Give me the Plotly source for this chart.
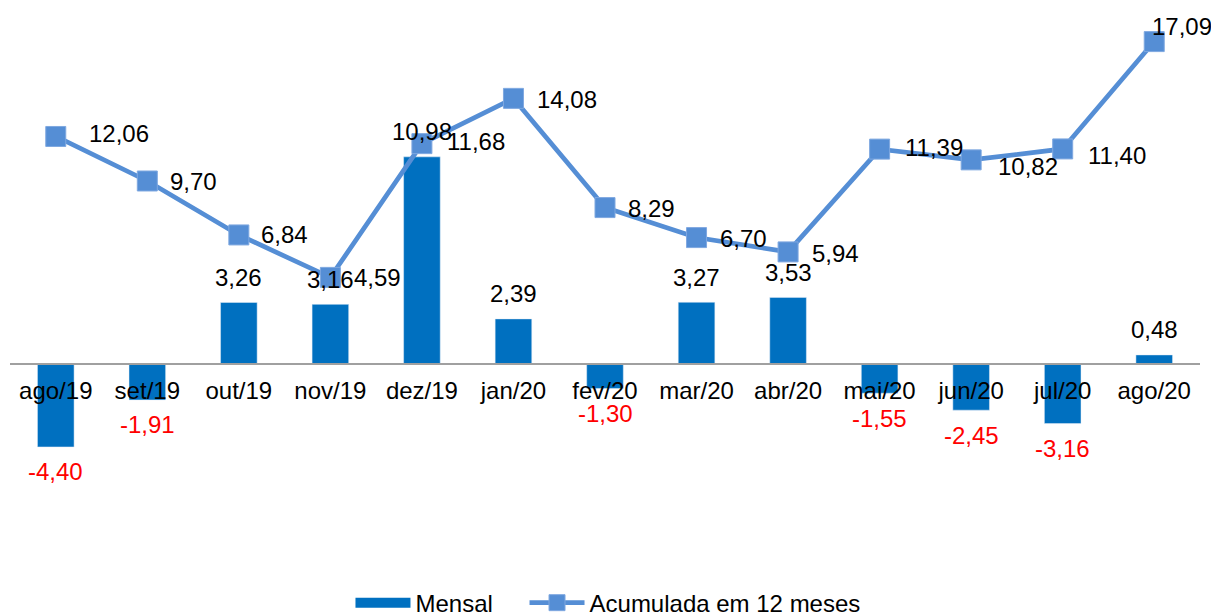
import plotly.graph_objects as go

categories = ["ago/19", "set/19", "out/19", "nov/19", "dez/19", "jan/20", "fev/20",
              "mar/20", "abr/20", "mai/20", "jun/20", "jul/20", "ago/20"]
mensal = [-4.40, -1.91, 3.26, 3.16, 10.98, 2.39, -1.30, 3.27, 3.53, -1.55, -2.45, -3.16, 0.48]
acumulada = [12.06, 9.70, 6.84, 4.59, 11.68, 14.08, 8.29, 6.70, 5.94, 11.39, 10.82, 11.40, 17.09]

# label offsets (pixels) for the accumulated-series labels
acc_label_dx = [31, 21, 20, 22, 23, 22, 21, 21, 22, 23, 25, 23, -4]
acc_label_dy = [-3, 1, 0, 0, -2, 1, 1, 1, 2, -2, 7, 7, -15]

BAR_COLOR = "#0070C0"
LINE_COLOR = "#558ED5"
FONT = "Arial, Liberation Sans, sans-serif"
FS = 24
NBSP = "\u00a0"

def fmt(v):
    return f"{v:.2f}".replace(".", ",")

fig = go.Figure()
fig.add_trace(go.Bar(x=categories, y=mensal, name="Mensal", marker_color=BAR_COLOR,
                     showlegend=False))
fig.add_trace(go.Scatter(x=[None], y=[None], mode="lines", name="Mensal" + NBSP * 4,
                         line=dict(color=BAR_COLOR, width=12), showlegend=True))
fig.add_trace(go.Scatter(x=categories, y=acumulada, name="Acumulada em 12 meses",
                         mode="lines+markers",
                         line=dict(color=LINE_COLOR, width=4.7),
                         marker=dict(symbol="square", size=20, color=LINE_COLOR,
                                     line=dict(color="#7FA8E0", width=1))))

ann = []
for c, v in zip(categories, mensal):
    ann.append(dict(x=c, y=v, xref="x", yref="y", text=fmt(v), showarrow=False,
                    xanchor="center", yanchor="middle", yshift=25 if v >= 0 else -25,
                    font=dict(family=FONT, size=FS, color="#000000" if v >= 0 else "#FF0000")))
for c, v, dx, dy in zip(categories, acumulada, acc_label_dx, acc_label_dy):
    ann.append(dict(x=c, y=v, xref="x", yref="y", text=fmt(v), showarrow=False,
                    xanchor="left", yanchor="middle", xshift=dx, yshift=-dy,
                    font=dict(family=FONT, size=FS, color="#000000")))

y_min, y_max = -7.0, 18.5
zero_pos = (0 - y_min) / (y_max - y_min)

fig.update_layout(
    width=1211, height=615,
    margin=dict(l=10, r=11, t=15, b=119, autoexpand=False),
    paper_bgcolor="white", plot_bgcolor="white",
    font=dict(family=FONT, size=FS, color="#000000"),
    bargap=0.6,
    annotations=ann,
    xaxis=dict(type="category", range=[-0.5, 12.5], anchor="free", position=zero_pos,
               showline=True, linecolor="#A0A0A0", linewidth=2, showgrid=False,
               ticks="", ticklabelstandoff=5, automargin=False,
               tickfont=dict(family=FONT, size=FS, color="#000000"),
               zeroline=False, layer="above traces"),
    yaxis=dict(range=[y_min, y_max], visible=False, showgrid=False, zeroline=False,
               automargin=False),
    legend=dict(orientation="h", x=0.5025, xanchor="center", y=-0.2226, yanchor="middle",
                font=dict(family=FONT, size=FS, color="#000000"), itemwidth=55,
                bgcolor="rgba(0,0,0,0)"),
    showlegend=True,
)

fig.write_html("out.html", config={"displayModeBar": False},
               post_script="document.body.style.margin='0';")
